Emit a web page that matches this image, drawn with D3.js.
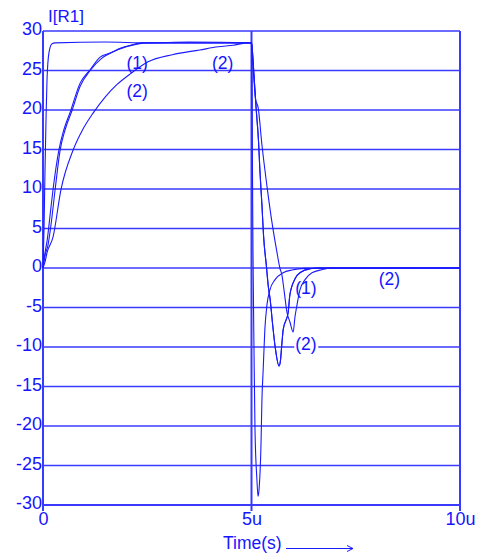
<!DOCTYPE html>
<html>
<head>
<meta charset="utf-8">
<script src="https://cdn.jsdelivr.net/npm/d3@7"></script>
<style>
  body { margin: 0; background: #fff; }
  text { font-family: "Liberation Sans", Arial, sans-serif; fill: #1515ff; }
</style>
</head>
<body>
<div id="chart"></div>
<script>
// tick values / labels
const yTicks = [-30, -25, -20, -15, -10, -5, 0, 5, 10, 15, 20, 25, 30];
const xTicks = [0, 5, 10];
const xTickLabels = ["0", "5u", "10u"];
const yTitle = "I[R1]";
const xTitle = "Time(s)";

// traces: [time (us), current]
const traceFast = [
  [0, 0], [0.024, 4.8], [0.048, 12.4], [0.072, 18.7], [0.096, 23.8], [0.144, 27.3], [0.216, 28.4],
  [0.29, 28.5], [1.5, 28.6], [2.5, 28.5], [3.5, 28.6], [4.99, 28.5],
  [5.01, 27.6], [5.02, 14.9], [5.035, 2.3], [5.06, -10.4], [5.084, -20.5], [5.13, -26.8], [5.156, -28.9],
  [5.18, -28.1], [5.23, -21.8], [5.25, -16.7], [5.28, -12.9], [5.32, -7.8], [5.37, -4.7], [5.44, -2.8],
  [5.56, -1.5], [5.76, -0.6], [5.97, -0.25], [6.28, -0.05], [10, 0]
];
const riseA = [
  [0, 0], [0.03, 1.3], [0.05, 2.0], [0.1, 3.5], [0.17, 6.7], [0.24, 9.9], [0.38, 14.9], [0.5, 17.5],
  [0.65, 19.7], [0.89, 23.4], [1.13, 25.1], [1.37, 26.7], [1.61, 27.2], [1.85, 27.8], [2.1, 28.2],
  [2.4, 28.5], [3.5, 28.5], [5.0, 28.5]
];
const fallA = [
  [5.01, 28.2], [5.06, 24.4], [5.11, 20.3], [5.17, 15.9], [5.2, 12.5], [5.25, 8.0], [5.29, 4.0],
  [5.36, 0.1], [5.4, -2.2], [5.45, -4.1], [5.5, -6.8], [5.57, -10.1], [5.66, -12.4], [5.69, -11.9],
  [5.73, -9.5], [5.76, -7.8], [5.88, -5.6], [5.92, -3.4], [6.04, -1.4], [6.19, -0.5], [6.4, -0.1],
  [6.6, 0], [10, 0]
];
const riseB = [
  [0, 0], [0.05, 1.6], [0.12, 2.9], [0.19, 5.4], [0.29, 9.9], [0.41, 14.9], [0.53, 17.5], [0.7, 20.0],
  [0.89, 23.0], [1.13, 25.0], [1.4, 26.5], [1.7, 27.4], [2.0, 28.0], [2.5, 28.5], [5.0, 28.5]
];
const riseC = [
  [0, 0], [0.05, 0.8], [0.1, 2.0], [0.24, 3.9], [0.43, 9.9], [0.72, 14.9], [0.95, 17.5], [1.2, 19.6],
  [1.5, 21.7], [1.77, 23.2], [2.1, 24.6], [2.52, 26.1], [3.1, 27.0], [3.76, 27.6], [4.2, 28.0],
  [4.56, 28.2], [4.92, 28.5], [5.0, 28.5]
];
const fallC = [
  [5.035, 25.7], [5.1, 21.3], [5.16, 20.3], [5.25, 15.6], [5.37, 10.4], [5.49, 5.8], [5.61, 2.0],
  [5.68, 0], [5.73, -0.9], [5.78, -2.8], [5.85, -5.6], [5.92, -6.8], [6.0, -8.1], [6.04, -6.3],
  [6.09, -4.7], [6.16, -2.8], [6.28, -1.5], [6.45, -0.6], [6.71, -0.2], [6.9, 0], [10, 0]
];
const traces = [traceFast, [...riseA, ...fallA], [...riseB, ...fallA], [...riseC, ...fallC]];

// trace labels: [time, value, text]
const traceLabels = [
  [2.0, 25.2, "(1)"], [4.05, 25.2, "(2)"], [2.0, 21.6, "(2)"],
  [6.05, -3.3, "(1)"], [6.05, -10.4, "(2)"], [8.05, -2.1, "(2)"]
];

const W = 493, H = 555;
const svg = d3.select("#chart").append("svg").attr("width", W).attr("height", H);

const x = d3.scaleLinear().domain([0, 10]).range([43, 460]);
const y = d3.scaleLinear().domain([-30, 30]).range([505, 31]);

const grid = "#3a3aff";

// horizontal grid
svg.append("g").selectAll("line").data(yTicks).enter().append("line")
  .attr("x1", x(0)).attr("x2", x(10))
  .attr("y1", d => y(d)).attr("y2", d => y(d))
  .attr("stroke", grid).attr("stroke-width", d => d === -30 ? 2 : 1.3);

// vertical lines at 0, 5u, 10u
svg.append("g").selectAll("line").data(xTicks).enter().append("line")
  .attr("x1", d => x(d)).attr("x2", d => x(d))
  .attr("y1", y(30)).attr("y2", y(-30) + 6)
  .attr("stroke", grid).attr("stroke-width", 2);

// traces
const line = d3.line().x(d => x(d[0])).y(d => y(d[1])).curve(d3.curveMonotoneX);
svg.append("g").selectAll("path").data(traces).enter().append("path")
  .attr("d", line)
  .attr("fill", "none")
  .attr("stroke", "#1a1aff")
  .attr("stroke-width", 1.1);

// trace labels
const lab = svg.append("g").selectAll("g").data(traceLabels).enter().append("g");
lab.filter(d => d[2] === "(2)" && d[1] < -5).append("rect")
  .attr("x", d => x(d[0]) - 1).attr("y", d => y(d[1]) - 14)
  .attr("width", 24).attr("height", 18).attr("fill", "#fff");
lab.append("text")
  .attr("x", d => x(d[0])).attr("y", d => y(d[1]))
  .attr("font-size", 17.5)
  .text(d => d[2]);

// axes (labels only)
const yAxis = d3.axisLeft(y).tickValues(yTicks).tickSize(0).tickPadding(1).tickFormat(d => String(d));
const gy = svg.append("g").attr("transform", `translate(${x(0)},0)`).call(yAxis);
gy.select(".domain").remove();
gy.selectAll("text").attr("dy", "0.2em").attr("font-size", 18).attr("font-family", null).style("fill", "#1515ff");

const xAxis = d3.axisBottom(x).tickValues(xTicks).tickSize(0).tickPadding(7)
  .tickFormat((d, i) => xTickLabels[i]);
const gx = svg.append("g").attr("transform", `translate(0,${y(-30)})`).call(xAxis);
gx.select(".domain").remove();
gx.selectAll("text").attr("font-size", 18).attr("font-family", null).style("fill", "#1515ff");

// titles
svg.append("text").attr("x", 48).attr("y", 22).attr("font-size", 17).text(yTitle);
svg.append("text").attr("x", 223).attr("y", 549).attr("font-size", 17.5).text(xTitle);
svg.append("path")
  .attr("d", "M286,548.5H353M347,545.5L353,548.5L347,551.5")
  .attr("fill", "none").attr("stroke", "#1a1aff").attr("stroke-width", 1);
</script>
</body>
</html>
